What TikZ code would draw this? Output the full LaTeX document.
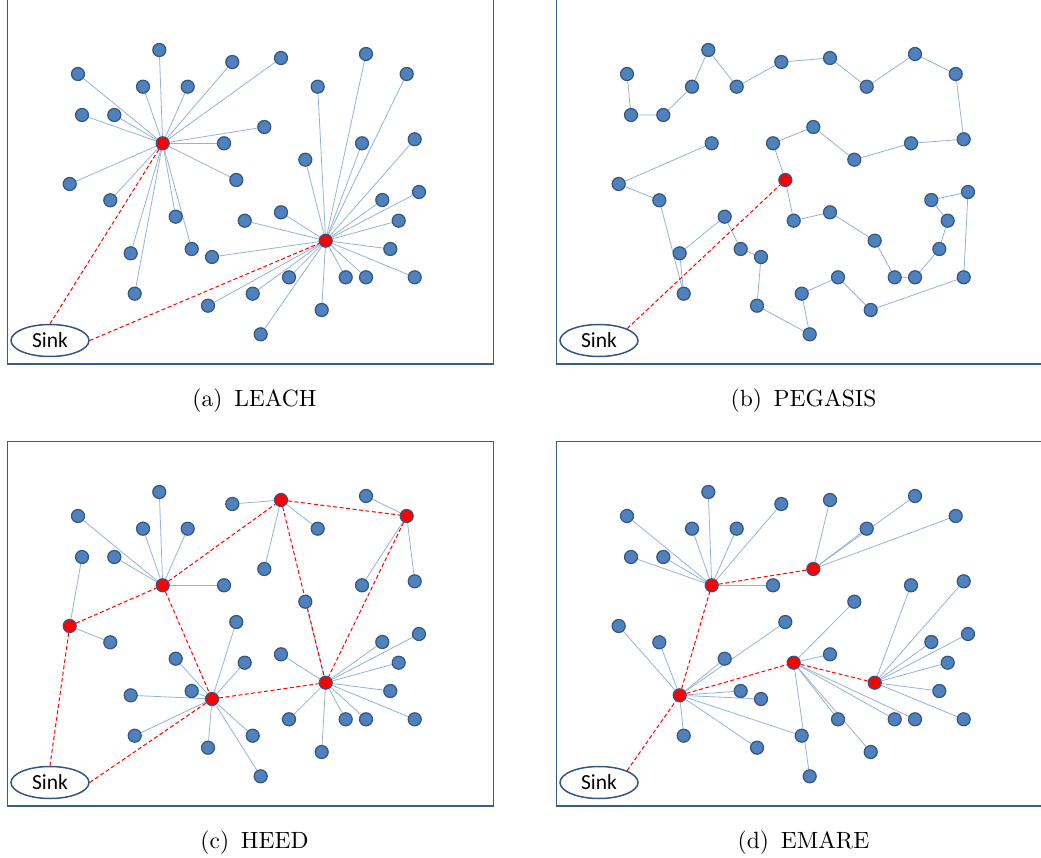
\documentclass[tikz,border=0pt]{standalone}
\usepackage{fontspec}
\newfontfamily\sinkfont{Carlito}
\newfontfamily\capfont{lmroman10-regular}[Extension=.otf]
\usetikzlibrary{shapes.geometric}
\pgfdeclarelayer{bg}
\pgfsetlayers{bg,main}
\definecolor{nodefill}{RGB}{79,129,189}
\definecolor{nodeline}{RGB}{52,86,130}
\definecolor{edgeblue}{RGB}{149,179,215}
\definecolor{framecol}{RGB}{56,93,138}
\definecolor{chred}{RGB}{255,0,0}
\tikzset{
  sn/.style={circle, minimum size=13pt, inner sep=0pt, fill=nodefill, draw=nodeline, line width=1.2pt},
  chnode/.style={fill=chred},
  link/.style={draw=edgeblue, line width=0.8pt},
  hop/.style={draw=chred, line width=1pt, dash pattern=on 4pt off 2.5pt},
  panel/.style={draw=framecol, line width=1.2pt},
  sinknode/.style={ellipse, draw=nodeline, line width=1.5pt, fill=white, minimum width=78pt, minimum height=32pt, inner sep=0pt, font=\sinkfont\fontsize{21.5}{24}\selectfont},
  caption/.style={font=\capfont\fontsize{23.5}{28}\selectfont, anchor=base},
  pa8/.style={chnode}, pa33/.style={chnode},
  pb11/.style={chnode},
  pc8/.style={chnode}, pc10/.style={chnode}, pc17/.style={chnode}, pc21/.style={chnode}, pc23/.style={chnode}, pc33/.style={chnode},
  pd8/.style={chnode}, pd14/.style={chnode}, pd15/.style={chnode}, pd25/.style={chnode}, pd33/.style={chnode},
}
\newcommand\placesensors[1]{%
  \foreach \px/\py [count=\i] in {159.3/50, 78/74, 232.3/62, 143/86.7, 187.7/86.7, 82/115, 114.3/115, 162.7/143.3, 224/143.3, 69.7/184,
    236.3/180, 110.3/200.3, 175.7/216.7, 244.7/220.7, 130.7/253.3, 191.7/249, 212/257, 134.7/293.7, 208/305.7, 252.7/293.7,
    281/58, 366/54, 406.7/74, 317.7/86.7, 264.3/127, 362/143.3, 414.7/139.3, 305.3/159.7, 382.3/200, 419/192,
    281/212.3, 398.7/220.7, 325.7/240.7, 390.3/249, 289/277.3, 345.7/277.3, 366/277.3, 414.7/277.3, 321.7/310, 260.7/334.3}{%
    \edef\doplace{\noexpand\node[sn,#1\i/.try] (#1\i) at (\px,\py) {};}\doplace}%
  \node[sinknode] (#1sink) at (50,340.5) {Sink};%
}
\begin{document}
\begin{tikzpicture}[x=1pt,y=-1pt]
\useasboundingbox (0,0) rectangle (1041,858);
% ---------- (a) LEACH ----------
\begin{scope}
  \placesensors{pa}
  \begin{pgfonlayer}{bg}
    \draw[panel] (7.5,-0.3) rectangle (493.3,364);
    \foreach \k in {1,2,3,4,5,6,7,9,10,11,12,13,15,16,18,21,25} \draw[link] (pa8) -- (pa\k);
    \foreach \k in {14,17,19,20,22,23,24,26,27,28,29,30,31,32,34,35,36,37,38,39,40} \draw[link] (pa33) -- (pa\k);
    \draw[hop] (pasink.north) -- (pa8);
    \draw[hop] (pasink.east) -- (pa33);
  \end{pgfonlayer}
  \node[caption] (capa) at (254.5,406) {(a)\hspace{0.5em}LEACH};
\end{scope}
% ---------- (b) PEGASIS ----------
\begin{scope}[shift={(549,0)}]
  \placesensors{pb}
  \begin{pgfonlayer}{bg}
    \draw[panel] (7.5,-0.3) rectangle (493.3,364);
    \draw[link] (pb2) -- (pb6) -- (pb7) -- (pb4) -- (pb1) -- (pb5) -- (pb3) -- (pb21) -- (pb24) -- (pb22)
      -- (pb23) -- (pb27) -- (pb26) -- (pb28) -- (pb25) -- (pb9) -- (pb11) -- (pb14) -- (pb31) -- (pb33)
      -- (pb36) -- (pb37) -- (pb34) -- (pb32) -- (pb29) -- (pb30) -- (pb38) -- (pb39) -- (pb35) -- (pb20)
      -- (pb40) -- (pb19) -- (pb17) -- (pb16) -- (pb13) -- (pb15) -- (pb18) -- (pb12) -- (pb10) -- (pb8);
    \draw[hop] (pbsink.north east) -- (pb11);
  \end{pgfonlayer}
  \node[caption] (capb) at (254.5,406) {(b)\hspace{0.5em}PEGASIS};
\end{scope}
% ---------- (c) HEED ----------
\begin{scope}[shift={(0,442)}]
  \placesensors{pc}
  \begin{pgfonlayer}{bg}
    \draw[panel] (7.5,-0.3) rectangle (493.3,364);
    \foreach \k in {1,2,4,5,7,9} \draw[link] (pc8) -- (pc\k);
    \foreach \k in {6,12} \draw[link] (pc10) -- (pc\k);
    \foreach \k in {11,13,14,15,16,18,19,20,40} \draw[link] (pc17) -- (pc\k);
    \foreach \k in {3,24,25} \draw[link] (pc21) -- (pc\k);
    \foreach \k in {22,26,27} \draw[link] (pc23) -- (pc\k);
    \foreach \k in {28,29,30,31,32,34,35,36,37,38,39} \draw[link] (pc33) -- (pc\k);
    \draw[hop] (pcsink.north) -- (pc10);
    \draw[hop] (pcsink.east) -- (pc17);
    \draw[hop] (pc10) -- (pc8);
    \draw[hop] (pc8) -- (pc21);
    \draw[hop] (pc8) -- (pc17);
    \draw[hop] (pc17) -- (pc33);
    \draw[hop] (pc21) -- (pc23);
    \draw[hop] (pc21) -- (pc33);
    \draw[hop] (pc23) -- (pc33);
  \end{pgfonlayer}
  \node[caption] (capc) at (254.5,406) {(c)\hspace{0.5em}HEED};
\end{scope}
% ---------- (d) EMARE ----------
\begin{scope}[shift={(549,442)}]
  \placesensors{pd}
  \begin{pgfonlayer}{bg}
    \draw[panel] (7.5,-0.3) rectangle (493.3,364);
    \foreach \k in {1,2,3,4,5,6,7,9} \draw[link] (pd8) -- (pd\k);
    \foreach \k in {21,22,23,24} \draw[link] (pd25) -- (pd\k);
    \foreach \k in {10,11,12,13,16,17,18,19,20} \draw[link] (pd15) -- (pd\k);
    \foreach \k in {28,31,35,36,37,39,40} \draw[link] (pd14) -- (pd\k);
    \foreach \k in {26,27,29,30,32,34,38} \draw[link] (pd33) -- (pd\k);
    \draw[hop] (pdsink.north east) -- (pd15);
    \draw[hop] (pd15) -- (pd8);
    \draw[hop] (pd8) -- (pd25);
    \draw[hop] (pd15) -- (pd14);
    \draw[hop] (pd14) -- (pd33);
  \end{pgfonlayer}
  \node[caption] (capd) at (254.5,406) {(d)\hspace{0.5em}EMARE};
\end{scope}
\end{tikzpicture}
\end{document}
